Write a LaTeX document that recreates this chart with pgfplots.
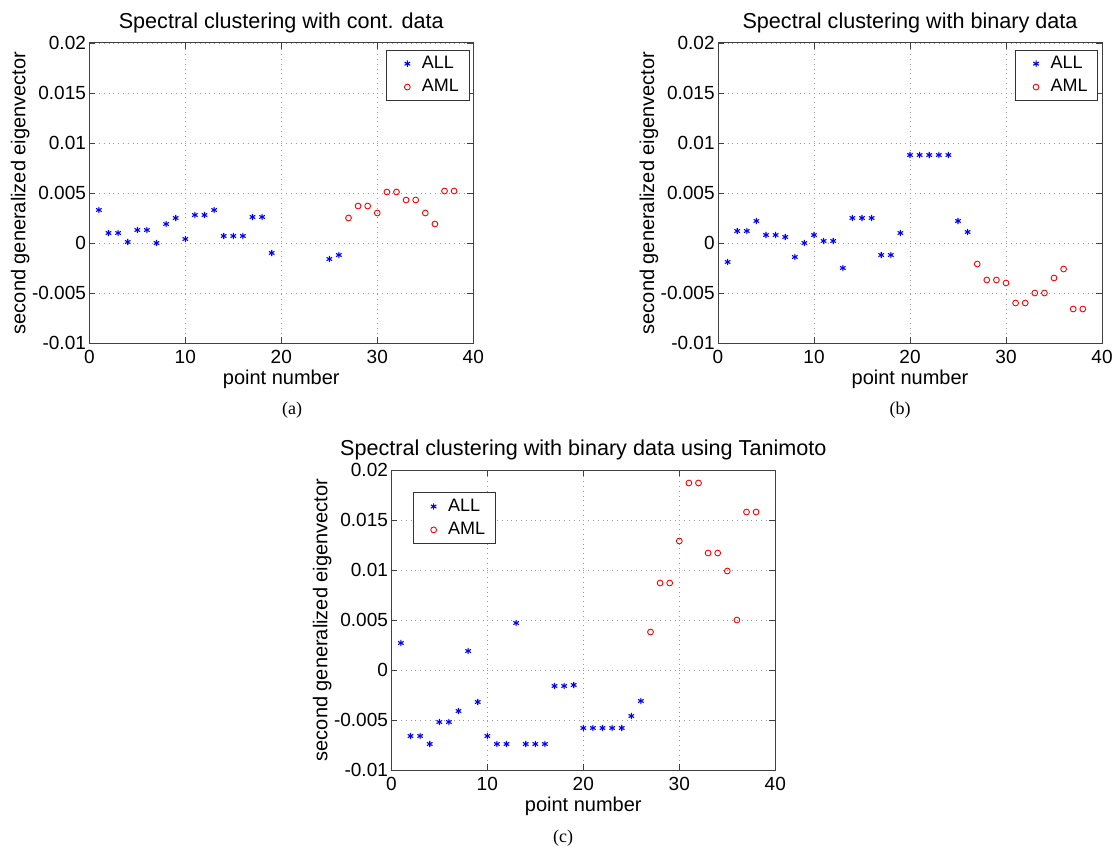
\documentclass[border=0pt]{standalone}
\usepackage{fontspec}
\setmainfont{Liberation Sans}
\newfontfamily\capfont{Liberation Serif}
\usepackage{pgfplots}
\pgfplotsset{compat=1.18}

% shared look of the three panels (matlab style)
\pgfplotsset{spec/.style={
    scale only axis,
    width=192pt, height=150pt,
    xmin=0, xmax=40, ymin=-0.01, ymax=0.02,
    xtick={0,10,20,30,40},
    xticklabels={0,10,20,30,40},
    ytick={-0.01,-0.005,0,0.005,0.01,0.015,0.02},
    yticklabels={-0.01,-0.005,0,0.005,0.01,0.015,0.02},
    scaled y ticks=false,
    grid=major,
    major grid style={dotted, gray!80, line width=0.4pt},
    axis line style={gray!50!black, line width=0.5pt},
    tick style={gray!50!black},
    major tick length=3pt,
    tick label style={font=\fontsize{9.5}{11}\selectfont},
    yticklabel style={inner xsep=1.5pt},
    xticklabel style={inner ysep=3.5pt},
    xlabel={point number},
    ylabel={second generalized eigenvector},
    label style={font=\fontsize{10}{12}\selectfont},
    xlabel style={at={(axis description cs:0.5,0)}, anchor=north, inner sep=0pt, yshift=-13.5pt},
    ylabel style={at={(axis description cs:0,0.5)}, anchor=center, inner sep=0pt, yshift=34.5pt},
    title style={font=\fontsize{10.8}{13}\selectfont, at={(axis description cs:0.5,1)}, anchor=south, inner sep=0pt, yshift=-1.25pt},
    legend style={draw=gray!40!black, fill=white, font=\fontsize{9}{11}\selectfont,
        inner xsep=3pt, inner ysep=1pt, row sep=0pt},
    legend cell align=left,
    legend image code/.code={\path (0pt,0pt) (12pt,0pt); \draw[#1] plot coordinates {(7pt,0pt)};},
}}
\pgfplotsset{
    allpts/.style={only marks, mark=asterisk, color=blue, mark size=1.6pt, line width=0.55pt},
    amlpts/.style={only marks, mark=o, color=red, mark size=1.45pt, line width=0.45pt},
}

\begin{document}
\begin{tikzpicture}

% (a) continuous data
\begin{axis}[spec, at={(44.65pt,252.5pt)}, anchor=south west,
    title={Spectral clustering with cont. data},
    legend style={at={(axis description cs:1,1)}, anchor=north east, xshift=-2pt, yshift=-3.3pt}]
\addplot[allpts] coordinates {
 (1,0.0033) (2,0.0010) (3,0.0010) (4,0.0001) (5,0.0013) (6,0.0013) (7,0.0000)
 (8,0.0019) (9,0.0025) (10,0.0004) (11,0.0028) (12,0.0028) (13,0.0033)
 (14,0.0007) (15,0.0007) (16,0.0007) (17,0.0026) (18,0.0026) (19,-0.0010)
 (25,-0.0016) (26,-0.0012)
};
\addlegendentry{ALL}
\addplot[amlpts] coordinates {
 (27,0.0025) (28,0.0037) (29,0.0037) (30,0.0030) (31,0.0051) (32,0.0051)
 (33,0.0043) (34,0.0043) (35,0.0030) (36,0.0019) (37,0.0052) (38,0.0052)
};
\addlegendentry{AML}
\end{axis}

% (b) binary data
\begin{axis}[spec, at={(359pt,252.5pt)}, anchor=south west,
    title={Spectral clustering with binary data},
    legend style={at={(axis description cs:1,1)}, anchor=north east, xshift=-2pt, yshift=-3.3pt}]
\addplot[allpts] coordinates {
 (1,-0.0019) (2,0.0012) (3,0.0012) (4,0.0022) (5,0.0008) (6,0.0008) (7,0.0006)
 (8,-0.0014) (9,0.0000) (10,0.0008) (11,0.0002) (12,0.0002) (13,-0.0025)
 (14,0.0025) (15,0.0025) (16,0.0025) (17,-0.0012) (18,-0.0012) (19,0.0010)
 (20,0.0088) (21,0.0088) (22,0.0088) (23,0.0088) (24,0.0088)
 (25,0.0022) (26,0.0011)
};
\addlegendentry{ALL}
\addplot[amlpts] coordinates {
 (27,-0.0021) (28,-0.0037) (29,-0.0037) (30,-0.0040) (31,-0.0060) (32,-0.0060)
 (33,-0.0050) (34,-0.0050) (35,-0.0035) (36,-0.0026) (37,-0.0066) (38,-0.0066)
};
\addlegendentry{AML}
\end{axis}

% (c) binary data, Tanimoto
\begin{axis}[spec, at={(195.65pt,39pt)}, anchor=south west,
    title={Spectral clustering with binary data using Tanimoto},
    legend style={at={(axis description cs:0,1)}, anchor=north west, xshift=10.7pt, yshift=-11.2pt}]
\addplot[allpts] coordinates {
 (1,0.0027) (2,-0.0066) (3,-0.0066) (4,-0.0074) (5,-0.0052) (6,-0.0052)
 (7,-0.0041) (8,0.0019) (9,-0.0032) (10,-0.0066) (11,-0.0074) (12,-0.0074)
 (13,0.0047) (14,-0.0074) (15,-0.0074) (16,-0.0074) (17,-0.0016) (18,-0.0016)
 (19,-0.0015) (20,-0.0058) (21,-0.0058) (22,-0.0058) (23,-0.0058) (24,-0.0058)
 (25,-0.0046) (26,-0.0031)
};
\addlegendentry{ALL}
\addplot[amlpts] coordinates {
 (27,0.0038) (28,0.0087) (29,0.0087) (30,0.0129) (31,0.0187) (32,0.0187)
 (33,0.0117) (34,0.0117) (35,0.0099) (36,0.0050) (37,0.0158) (38,0.0158)
};
\addlegendentry{AML}
\end{axis}

% sub-figure captions
\node[font=\capfont\fontsize{9}{11}\selectfont] at (146pt,219pt) {(a)};
\node[font=\capfont\fontsize{9}{11}\selectfont] at (450pt,219pt) {(b)};
\node[font=\capfont\fontsize{9}{11}\selectfont] at (281.5pt,5pt) {(c)};

\pgfresetboundingbox
\useasboundingbox (0,0) rectangle (556pt,424pt);
\end{tikzpicture}
\end{document}
